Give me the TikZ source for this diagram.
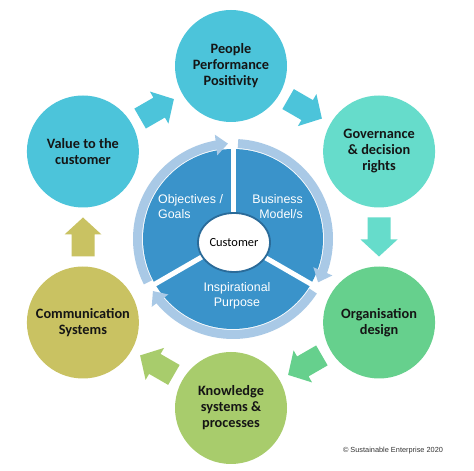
\documentclass[tikz,border=0pt]{standalone}
\usepackage{fontspec}
\setmainfont{Liberation Sans}
\newfontfamily\calibri{Carlito}
\usetikzlibrary{arrows.meta,bending,shapes.geometric,calc}
\definecolor{cyanc}{HTML}{4CC4DA}
\definecolor{aquac}{HTML}{66DCCB}
\definecolor{greenc}{HTML}{66D08D}
\definecolor{limec}{HTML}{A8CC6C}
\definecolor{olivec}{HTML}{C9C262}
\definecolor{diskc}{HTML}{3A93CA}
\definecolor{ringc}{HTML}{A9C9E6}
\definecolor{edgec}{HTML}{2A6B99}
\definecolor{txtc}{HTML}{151515}
\tikzset{
  bigc/.style={circle, minimum size=112pt, inner sep=0pt, align=center, text=txtc,
    font=\calibri\bfseries\fontsize{14.3pt}{16pt}\selectfont},
  sectortxt/.style={text=white, inner sep=0pt, font=\fontsize{12.4pt}{15pt}\selectfont},
  ringarrow/.style={draw=ringc, line width=9pt, -{Triangle[width=20pt,length=12pt,flex]}},
  blockarrow/.pic={\path[pic actions] (-19.5,-11.5) -- (2.5,-11.5) -- (2.5,-18.5) -- (19.5,0) -- (2.5,18.5) -- (2.5,11.5) -- (-19.5,11.5) -- cycle;}
}
\begin{document}
\begin{tikzpicture}[x=1pt,y=1pt]
\useasboundingbox (0,0) rectangle (474,471);
\fill[white] (0,0) rectangle (474,471);
\coordinate (c) at (231,234);
\coordinate (w) at (233,232);
% outer circles
\node[bigc, fill=cyanc] (people) at ($(c)+(90:171)$) {People\\Performance\\Positivity};
\node[bigc, fill=aquac] (gov) at ($(c)+(30:171)$) {Governance\\\& decision\\rights};
\node[bigc, fill=greenc] (org) at ($(c)+(-30:171)$) {Organisation\\design};
\node[bigc, fill=limec] (know) at ($(c)+(-90:171)$) {Knowledge\\systems \&\\processes};
\node[bigc, fill=olivec] (comm) at ($(c)+(210:171)$) {Communication\\Systems};
\node[bigc, fill=cyanc] (value) at ($(c)+(150:171)$) {Value to the\\customer};
% block arrows between circles
\coordinate (a1) at ($(c)+(120:148)$);
\coordinate (a2) at ($(c)+(60:148)$);
\coordinate (a3) at ($(c)+(0:148)$);
\coordinate (a4) at ($(c)+(-60:148)$);
\coordinate (a5) at ($(c)+(-120:148)$);
\coordinate (a6) at ($(c)+(180:148)$);
\pic[fill=cyanc, rotate=30] at (a1) {blockarrow};
\pic[fill=cyanc, rotate=-30] at (a2) {blockarrow};
\pic[fill=aquac, rotate=-90] at (a3) {blockarrow};
\pic[fill=greenc, rotate=-150] at (a4) {blockarrow};
\pic[fill=limec, rotate=150] at (a5) {blockarrow};
\pic[fill=olivec, rotate=90] at (a6) {blockarrow};
% central wheel
\fill[diskc] (w) circle (90);
\foreach \a in {90,-30,210}
  \draw[white, line width=5pt] (w) -- ($(w)+(\a:92)$);
\foreach \s/\e in {207/93, 87/-27, -33/-147}
  \draw[ringarrow] ($(w)+(\s:95.5)$) arc[start angle=\s, end angle=\e, radius=95.5];
\node[ellipse, draw=edgec, line width=1.8pt, fill=white, minimum width=72pt, minimum height=59pt, inner sep=0pt,
  font=\calibri\fontsize{12.4pt}{15pt}\selectfont] (cust) at (234,228.5) {Customer};
\node[sectortxt, anchor=west, align=left] (obj) at (158,264.5) {Objectives /\\Goals};
\node[sectortxt, anchor=east, align=right] (bus) at (303,264.5) {Business\\Model/s};
\node[sectortxt, align=center] (insp) at (237,175.5) {Inspirational\\Purpose};
% copyright
\node[text=black!80, inner sep=0pt, font=\fontsize{7.36pt}{9pt}\selectfont] (copy) at (393,20) {© Sustainable Enterprise 2020};
\end{tikzpicture}
\end{document}
